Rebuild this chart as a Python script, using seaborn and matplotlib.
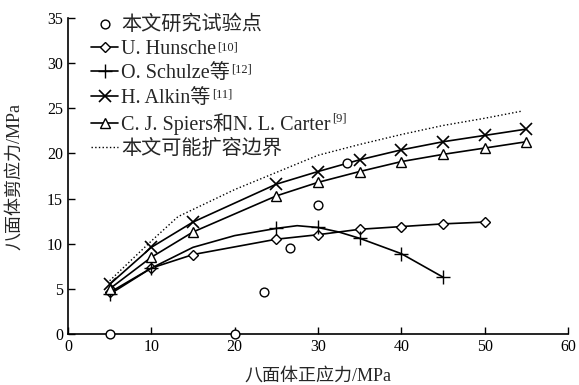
import numpy as np
import pandas as pd
import matplotlib
matplotlib.use("Agg")
import matplotlib.pyplot as plt
import seaborn as sns

# test points
test_x = [5, 20, 23.5, 26.7, 30, 33.5]
test_y = [0, 0, 4.7, 9.5, 14.3, 19.0]

# U. Hunsche
hun_x = [5, 10, 15, 25, 30, 35, 40, 45, 50]
hun_y = [4.6, 7.3, 8.8, 10.5, 11.0, 11.6, 11.9, 12.2, 12.4]

# O. Schulze (curve + markers)
sch_curve_x = [5, 10, 15, 20, 25, 27.5, 30, 32.5, 35, 40, 45]
sch_curve_y = [4.4, 7.3, 9.6, 10.9, 11.7, 12.0, 11.8, 11.3, 10.6, 8.9, 6.3]
sch_x = [5, 10, 25, 30, 35, 40, 45]
sch_y = [4.4, 7.3, 11.7, 11.8, 10.6, 8.9, 6.3]

# H. Alkin
alk_x = [5, 10, 15, 25, 30, 35, 40, 45, 50, 55]
alk_y = [5.5, 9.6, 12.4, 16.6, 18.0, 19.3, 20.4, 21.3, 22.0, 22.7]

# C. J. Spiers & N. L. Carter
spi_x = [5, 10, 15, 25, 30, 35, 40, 45, 50, 55]
spi_y = [5.0, 8.5, 11.3, 15.3, 16.8, 18.0, 19.1, 19.9, 20.6, 21.3]

# boundary (dotted)
bnd_x = [5, 10, 13.2, 20, 25, 30, 35, 40, 45, 50, 54.5]
bnd_y = [5.9, 10.3, 13.0, 16.0, 17.9, 19.8, 21.0, 22.1, 23.1, 23.9, 24.7]

labels = ['本文研究试验点', 'U. Hunsche', 'O. Schulze等', 'H. Alkin等',
          'C. J. Spiers和N. L. Carter', '本文可能扩容边界']
refs = ['', '[10]', '[12]', '[11]', '[9]', '']

sns.set_style("ticks")
plt.rcParams['font.family'] = ['Liberation Serif', 'Noto Sans CJK SC']
plt.rcParams['xtick.direction'] = 'in'
plt.rcParams['ytick.direction'] = 'in'

fig = plt.figure(figsize=(5.79, 3.85), dpi=100)
ax = fig.add_axes([0.1174, 0.1325, 0.8636, 0.8205])

lw = 1.2
sns.scatterplot(x=test_x, y=test_y, ax=ax, marker='o', s=40, facecolor='white',
                edgecolor='black', linewidth=1.0, label=labels[0], zorder=5, clip_on=False)
sns.lineplot(x=hun_x, y=hun_y, ax=ax, color='black', lw=lw, marker='D', markersize=5,
             markerfacecolor='white', markeredgecolor='black', markeredgewidth=1.0,
             label=labels[1])
sns.lineplot(x=sch_curve_x, y=sch_curve_y, ax=ax, color='black', lw=lw, legend=False)
ax.plot(sch_x, sch_y, ls='none', marker='+', markersize=10, color='black', mew=1.0)
ax.plot([], [], color='black', lw=lw, marker='+', markersize=10, mew=1.0, label=labels[2])
sns.lineplot(x=alk_x, y=alk_y, ax=ax, color='black', lw=lw, marker='x', markersize=8,
             markeredgecolor='black', markeredgewidth=1.2, label=labels[3])
sns.lineplot(x=spi_x, y=spi_y, ax=ax, color='black', lw=lw, marker='^', markersize=7,
             markerfacecolor='white', markeredgecolor='black', markeredgewidth=1.0,
             label=labels[4])
sns.lineplot(x=bnd_x, y=bnd_y, ax=ax, color='black', lw=1.0, ls=':', label=labels[5])

ax.set_xlim(0, 60)
ax.set_ylim(0, 35)
ax.set_xticks(range(0, 61, 10))
ax.set_yticks(range(0, 36, 5))
ax.tick_params(labelsize=11.5, length=5, width=1, colors='black')
sns.despine(ax=ax)
for s in ['left', 'bottom']:
    ax.spines[s].set_linewidth(1.2)
    ax.spines[s].set_color('black')

ax.set_xlabel('八面体正应力/MPa', fontsize=13)
ax.set_ylabel('八面体剪应力/MPa', fontsize=13)
ax.xaxis.set_label_coords(0.5, -0.108)
ax.yaxis.set_label_coords(-0.09, 0.5)

# order legend
handles, labs = ax.get_legend_handles_labels()
hmap = dict(zip(labs, handles))
leg = ax.legend([hmap[k] for k in labels], labels, loc='upper left',
                bbox_to_anchor=(0.03, 1.035), frameon=False, fontsize=14.5,
                handlelength=1.35, handletextpad=0.15, labelspacing=0.26,
                borderaxespad=0)

# superscript reference numbers after legend texts
fig.canvas.draw()
renderer = fig.canvas.get_renderer()
inv = fig.transFigure.inverted()
for txt, ref in zip(leg.get_texts(), refs):
    if not ref:
        continue
    bb = txt.get_window_extent()
    _, _, desc = renderer.get_text_width_height_descent(
        txt.get_text(), txt.get_fontproperties(), ismath=False)
    base = bb.y0 + desc
    x1, yb = inv.transform((bb.x1, base + 8.5))
    fig.text(x1 + 0.002, yb, ref, fontsize=9, va='baseline', ha='left')

fig.savefig('out.png', dpi=100)
